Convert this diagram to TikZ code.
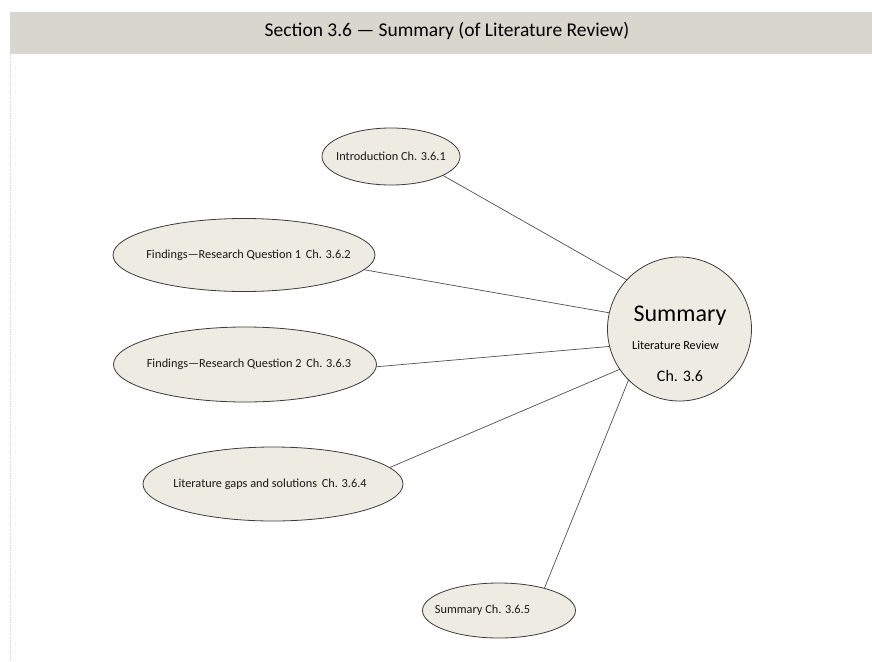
\documentclass[tikz,border=0pt]{standalone}
\usepackage{fontspec}
\setmainfont{Carlito}
\usetikzlibrary{shapes.geometric}

\definecolor{bandfill}{HTML}{D9D6CD}
\definecolor{bubblefill}{HTML}{EEEBE2}
\definecolor{outline}{HTML}{3C3C3C}
\definecolor{guide}{HTML}{C8DBF2}

\begin{document}
\begin{tikzpicture}[x=1pt, y=-1pt,
  topic/.style={ellipse, draw=outline, fill=bubblefill, line width=0.8pt,
                inner sep=0pt, outer sep=0pt, text=black!90,
                font=\fontsize{12.3}{14}\selectfont},
  hubstyle/.style={circle, draw=outline, fill=bubblefill, line width=0.8pt,
                   inner sep=0pt, outer sep=0pt, minimum size=144},
  link/.style={draw=outline!90, line width=0.7pt},
  plain/.style={inner sep=0pt, text=black}]

  % canvas and header band
  \useasboundingbox (0,0) rectangle (872,661);
  \fill[white] (0,0) rectangle (872,661);
  \fill[bandfill] (10,12) rectangle (872,54);
  \draw[guide, densely dotted, line width=0.8pt] (10,12) -- (872,12);
  \draw[guide, densely dotted, line width=0.8pt] (10,12) -- (10,661);
  \node[plain, font=\fontsize{19.5}{22}\selectfont] (title) at (447,31)
    {Section 3.6 — Summary (of Literature Review)};

  % central hub
  \node[hubstyle] (hub) at (679.5,329) {};
  \node[plain, font=\fontsize{24}{28}\selectfont] (hubname) at (680,316) {Summary};
  \node[plain, font=\fontsize{12.2}{14}\selectfont] (hubsub) at (675.5,345) {Literature Review};
  \node[plain, font=\fontsize{16}{19}\selectfont] (hubch) at (680,376) {Ch. 3.6};

  % topic ellipses
  \node[topic, minimum width=138, minimum height=57] (intro) at (391,156.5)
    {\makebox[0pt]{Introduction Ch. 3.6.1}};
  \node[topic, minimum width=262, minimum height=73] (rq1) at (244,255)
    {\makebox[0pt]{\hspace*{9pt}Findings—Research Question 1\,\ Ch. 3.6.2}};
  \node[topic, minimum width=263, minimum height=75] (rq2) at (245,364.5)
    {\makebox[0pt]{\hspace*{8pt}Findings—Research Question 2\,\ Ch. 3.6.3}};
  \node[topic, minimum width=260, minimum height=74] (gaps) at (273,484)
    {\makebox[0pt]{Literature gaps and solutions\,\ Ch. 3.6.4\hspace*{6pt}}};
  \node[topic, minimum width=153, minimum height=55] (wrap) at (499,610.5)
    {\makebox[0pt]{Summary Ch. 3.6.5\hspace*{33pt}}};

  % connectors from each topic to the hub
  \draw[link] (intro.-20.5) -- (hub.137.3);
  \draw[link] (rq1.-7)      -- (hub.167.6);
  \draw[link] (rq2.-1)      -- (hub.194.4);
  \draw[link] (gaps.8.5)    -- (hub.214.2);
  \draw[link] (wrap.26)     -- (hub.225.8);
\end{tikzpicture}
\end{document}
